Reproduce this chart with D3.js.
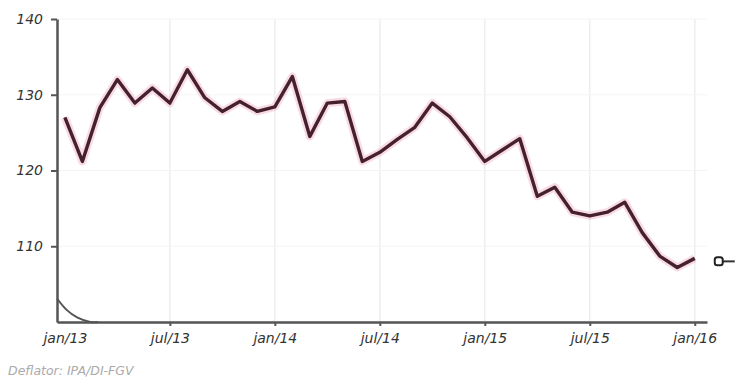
<!DOCTYPE html>
<html>
<head>
<meta charset="utf-8">
<script src="https://cdn.jsdelivr.net/npm/d3@7/dist/d3.min.js"></script>
<style>
  html, body { margin: 0; padding: 0; background: #fff; }
  svg { display: block; }
  .tick text { font-family: "DejaVu Sans", Verdana, sans-serif; font-style: italic; }
</style>
</head>
<body>
<svg id="chart" width="737" height="385"></svg>
<script>
// Monthly index, jan/13 .. jan/16 (month 0 .. 36)
const months = d3.range(0, 37);
const values = [
  127.0, 121.2, 128.3, 132.0, 128.9, 130.9, 128.9, 133.3, 129.6, 127.8, 129.1, 127.8,
  128.4, 132.4, 124.5, 128.9, 129.1, 121.2, 122.4, 124.1, 125.7, 128.9, 127.1, 124.3,
  121.2, 122.7, 124.2, 116.6, 117.8, 114.5, 114.0, 114.5, 115.8, 111.8, 108.7, 107.2,
  108.4
];
const xTickMonths = [0, 6, 12, 18, 24, 30, 36];
const xTickLabels = ["jan/13", "jul/13", "jan/14", "jul/14", "jan/15", "jul/15", "jan/16"];
const yTicks = [110, 120, 130, 140];
const sourceNote = "Deflator: IPA/DI-FGV";
// rounded corner where the value axis meets the time axis (month, value)
const cornerCurve = [[-0.45, 103.1], [0.1, 101.6], [0.7, 100.6], [1.45, 100.0], [1.9, 100.0]];

const svg = d3.select("#chart");

const x = d3.scaleLinear().domain([-0.45, 36.7]).range([57, 707]);
const y = d3.scaleLinear().domain([100, 140]).range([322, 19]);

// light grid
const grid = svg.append("g");
grid.selectAll("line.v").data(xTickMonths.slice(1)).join("line")
  .attr("x1", d => x(d)).attr("x2", d => x(d))
  .attr("y1", y(140)).attr("y2", y(100))
  .attr("stroke", "#eeeeee").attr("stroke-width", 1.5);
grid.selectAll("line.h").data(yTicks).join("line")
  .attr("x1", x(-0.45)).attr("x2", x(36.7))
  .attr("y1", d => y(d)).attr("y2", d => y(d))
  .attr("stroke", "#f4f4f4").attr("stroke-width", 1);

// axes
const xAxis = d3.axisBottom(x)
  .tickValues(xTickMonths)
  .tickFormat((d, i) => xTickLabels[i])
  .tickSize(4).tickSizeOuter(0).tickPadding(7);
const gx = svg.append("g").attr("transform", `translate(0,${y(100)})`).call(xAxis);
gx.select(".domain").attr("stroke", "#555").attr("stroke-width", 2.5);
gx.selectAll(".tick line").attr("stroke", "#555").attr("stroke-width", 2);
gx.selectAll(".tick text").attr("font-size", 14).attr("fill", "#333");
gx.selectAll(".tick").filter(d => d === 0).select("line").remove();

const yAxis = d3.axisLeft(y)
  .tickValues(yTicks)
  .tickSize(6).tickSizeOuter(0).tickPadding(8);
const gy = svg.append("g").attr("transform", `translate(${x(-0.45)},0)`).call(yAxis);
gy.select(".domain").attr("stroke", "#555").attr("stroke-width", 2.5);
gy.selectAll(".tick line").attr("stroke", "#555").attr("stroke-width", 2);
gy.selectAll(".tick text").attr("font-size", 14).attr("fill", "#333");

// corner curve
svg.append("path")
  .datum(cornerCurve)
  .attr("fill", "none").attr("stroke", "#555").attr("stroke-width", 2)
  .attr("d", d3.line().x(d => x(d[0])).y(d => y(d[1])).curve(d3.curveCatmullRom));

// series
const series = months.map((m, i) => [m, values[i]]);
const line = d3.line().x(d => x(d[0])).y(d => y(d[1]));
svg.append("path").datum(series)
  .attr("fill", "none").attr("stroke", "#f2b8ca").attr("stroke-width", 8)
  .attr("stroke-opacity", 0.5).attr("stroke-linejoin", "round")
  .attr("d", line);
svg.append("path").datum(series)
  .attr("fill", "none").attr("stroke", "#45202f").attr("stroke-width", 3.4)
  .attr("stroke-linejoin", "round")
  .attr("d", line);

// end marker
const last = series[series.length - 1];
const mk = svg.append("g").attr("transform", `translate(${x(last[0]) + 24},${y(last[1]) + 3})`);
mk.append("line").attr("x1", 4).attr("x2", 16).attr("y1", 0).attr("y2", 0)
  .attr("stroke", "#333").attr("stroke-width", 2);
mk.append("rect").attr("x", -4).attr("y", -4).attr("width", 8).attr("height", 8).attr("rx", 2.5)
  .attr("fill", "#fff").attr("stroke", "#222").attr("stroke-width", 2);

// source note
svg.append("text")
  .attr("x", 8).attr("y", 375)
  .attr("font-family", "DejaVu Sans, Verdana, sans-serif")
  .attr("font-style", "italic").attr("font-size", 12.5).attr("fill", "#aaa")
  .text(sourceNote);
</script>
</body>
</html>
